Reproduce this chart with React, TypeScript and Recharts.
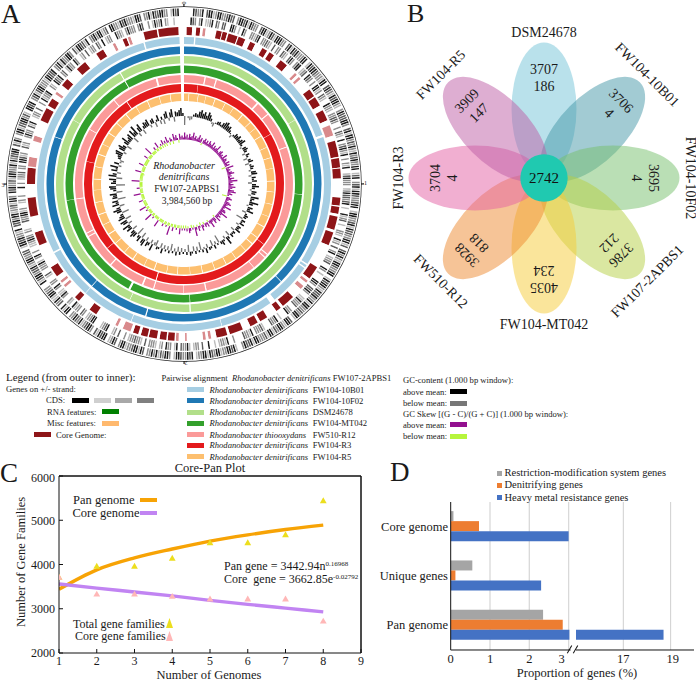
import React from 'react';
import {
  PieChart, Pie, Sector, ScatterChart, Scatter, XAxis, YAxis, ZAxis,
  ComposedChart, Line, BarChart, Bar, CartesianGrid, ReferenceLine,
} from 'recharts';

// ---- panel A: gene tracks, clockwise from the origin. 0 = empty, 1-4 = black to pale grey
const outerStrand = [
  '0000123310211431133212203112141233021143', '1241113302141213331104121123334110212341',
  '2113403122211302141132313413213311042103', '2141123321104113321412233114202131341123',
  '3110412113412213314113323114021143113241', '1423331141221300412113341132141133401213',
  '3211403113241313302141123341130213401121', '4203112341321330114102314411233001421132',
  '2143113322041121334102213114332411301213', '3241123314132211024130311422113240112103',
  '2142113334112210321413311302411224103213', '1143201133412133341120331412211330412100',
];
const innerStrand = [
  '0001230310443102302200113040130033421033', '2340203302340213031104320123030114302340',
  '0133403322300302340103213410303410042133', '3043122321040014320400334014302031043320',
  '0130400011302213004413320033100040133200', '0423330143320000300143340400100203340413',
  '3201403310340433302043323340300203400123', '4000113340320334104300314403103300420033',
  '3140310300443123034000233114300430300010', '3043320330112430024300313302410043302003',
  '0143310034012310320413301300430204330230', '1043300133403133303120030413310340040000',
];
// start degree, end degree, 1 dark / 2 pale
const coreBlocks = [
  [1, 3, 1], [4.5, 6, 1], [7, 8, 2], [12, 14, 1], [14.3, 16, 1], [16.5, 20, 1], [20.4, 23, 1], [25, 27, 1], [30, 32, 1], [33, 35, 1],
  [38, 41, 1], [45, 46, 2], [47, 48, 2], [53, 56, 1], [56.5, 60, 1], [62, 66, 1], [68, 72, 2], [74, 80, 1], [80.5, 84, 1], [84.3, 88, 1],
  [95, 98, 1], [98.4, 101, 1], [102, 107, 1], [108, 113, 1], [122, 127, 1], [128, 129, 2], [130.5, 132, 2], [136, 141, 1], [142, 144, 1],
  [148, 151, 1], [152, 155, 1], [158, 163, 1], [164, 168, 1], [170, 171, 2], [172, 173, 2], [179, 179.6, 2], [182, 183, 2],
  [183.5, 186, 1], [186.5, 189, 1], [190, 193, 1], [193.5, 196, 1], [197, 199, 1], [200, 203, 2], [205, 206, 2],
  [214, 217, 1], [222, 224, 1], [229, 230, 2], [231, 232, 2], [234, 238, 1], [247, 252, 1], [258, 265, 1],
  [270, 276, 1], [276.5, 280, 2], [286, 288, 2], [294, 299, 1], [300, 303, 1], [305, 306, 2], [309, 312, 1],
  [317, 321, 1], [326, 329, 1], [333, 334, 2], [337, 338.5, 1], [339, 340, 2], [345, 350, 1], [350.5, 358, 1],
];
// pairwise alignment rings: break position and width in degrees
const ring10B01Breaks = [[4, 0.5], [70.5, 0.9], [123, 0.5], [124.5, 0.5], [142, 2], [165, 0.2], [201, 0.2], [222, 0.2], [242, 0.6], [344, 0.5]];
const ring10F02Breaks = [[135, 0.25], [196, 0.45], [222, 0.2], [290, 0.2]];
const ringDSMBreaks = [[60, 0.15], [177, 0.5], [205, 0.2], [300, 0.15], [330, 0.4]];
const ringMT042Breaks = [[95, 0.15], [177, 0.25], [207, 1], [262, 0.15], [330, 0.4]];
const ringR12Breaks = [
  [11, 0.6], [17, 0.6], [42, 0.8], [50, 0.5], [70, 0.4], [130, 0.5], [132, 0.5], [140, 0.3], [168, 0.6], [180, 0.3],
  [196, 0.5], [202, 0.8], [222, 0.6], [241, 0.5], [243, 0.5], [262, 0.3], [300, 0.3], [320, 0.4], [345, 0.9],
];
const ringR3Breaks = [[8, 0.15], [60, 0.2], [127, 0.2], [196, 0.5], [230, 0.2], [283, 0.15], [325, 0.4]];
const ringR5Breaks = [
  [3, 0.3], [9, 0.3], [14, 0.2], [20, 0.4], [27, 0.3], [33, 0.2], [40, 0.5], [47, 0.3], [52, 0.2], [58, 0.4], [66, 0.3], [73, 0.3],
  [80, 0.2], [88, 0.4], [95, 0.3], [103, 0.3], [111, 0.2], [118, 0.5], [126, 0.4], [131, 0.6], [137, 0.3], [145, 0.3], [152, 0.4],
  [160, 0.3], [168, 0.4], [176, 0.2], [184, 0.4], [191, 0.3], [199, 0.5], [206, 0.3], [214, 0.5], [221, 0.3], [229, 0.4], [236, 0.6],
  [243, 0.3], [250, 0.4], [258, 0.3], [266, 0.2], [273, 0.4], [281, 0.3], [289, 0.5], [296, 0.3], [304, 0.4], [312, 0.3], [320, 0.5],
  [328, 0.3], [336, 0.4], [344, 0.3], [351, 0.4],
];
// deviation from the window mean, 1.5 degree slots
const gcContent = [
  -9, 0, -2, -4, -3, 2, 4, 3, 6, 8, 5, 7, 4, 8, 6, 3, -2, -4, 1, 3,
  4, 2, 5, 7, 8, 5, 6, 3, 1, -3, 2, 5, 4, 6, 3, 5, 7, 2, -2, 4,
  5, 3, -3, 4, 2, -4, 3, 5, -4, 2, 4, 3, -2, 5, 6, -3, 4, 2, 5, -4,
  4, 7, 3, -2, 5, 4, -3, 8, 4, 2, 9, 4, -2, 5, 3, 7, -4, 2, 4, 3,
  -7, 4, 2, 5, -3, 4, 3, 6, -4, 3, 2, 4, -5, 3, 8, -3, 2, 5, 3, -8,
  2, -3, 4, -6, 2, 3, -4, 5, -2, 3, -8, 2, -4, 3, -5, 2, 4, -7, 3, -3,
  2, -4, 3, -5, 4, -3, 2, -7, 3, -4, 2, -4, 5, -5, 2, 3, -6, -3, 7, -4,
  3, 5, -4, 7, 5, -6, 6, 3, -8, 5, 7, 4, -5, 6, 3, 8, -4, 5, 7, -6,
  7, 5, 3, -7, 5, 8, 4, -5, 7, 3, 6, -8, 5, 4, 7, -6, 3, 6, 7, -9,
  5, 3, 7, -6, 8, 4, -4, 6, 2, 8, -3, 5, -2, -4, 3, 4, 7, 8, -3, 6,
  8, 4, -5, 5, 9, 3, 5, 7, -6, 8, 4, 10, -4, 5, 8, -5, 3, 6, 5, 7,
  -3, 4, 5, -5, 2, 6, -4, 3, -5, 5, 7, -3, 5, 8, -5, 5, 4, 6, 8, 3,
];
const gcSkew = [
  7, 3, 5, 2, 6, 3, 4, 8, 3, 5, 2, 4, 7, 3, 5, -2, 4, 6, 3, 5,
  2, 6, 4, 3, 7, 2, 5, 3, 4, 8, 3, 2, 5, 6, 3, 4, 2, 7, 3, 5,
  4, 2, 6, 3, 5, -4, 8, 3, 4, 2, 5, 7, 3, 4, 2, 6, 3, 9, 4, 2,
  5, 3, 7, 4, 2, 6, 8, 3, 5, 2, -5, 4, 6, 3, 2, 5, 7, 4, 3, 9,
  3, 2, 5, 6, 3, 10, 4, 2, 5, 3, 7, -2, 4, 6, 2, 3, 8, 3, -2, 5,
  2, 4, -2, 3, 6, -3, 2, 5, -2, 3, 9, -2, 2, -3, 3, 5, -2, 3, -3, 2,
  -3, 2, -3, 6, -3, -3, 2, -3, -3, 4, -3, -3, 9, -3, -3, 2, -3, -3, 3, -3,
  -3, -3, -3, 7, -3, -3, -3, -3, 2, -3, -3, 8, -3, -3, -3, -3, 2, -3, -3, 7,
  -3, -3, -3, -3, -3, 4, -3, -3, -3, -3, -3, 7, -3, -3, -3, -3, 3, -3, -3, -3,
  -3, -3, 8, -3, -3, -3, -3, -3, -4, -3, 6, -3, -3, -3, -3, -3, 5, -3, -3, -3,
  -3, -3, -3, 4, -3, -3, -3, -3, 8, -3, -3, -3, -3, 3, -3, -3, 6, -3, -3, 2,
  -3, 5, -3, 3, -3, 6, 2, -3, 4, 2, -3, 7, 3, 5, 2, -3, 6, 3, 4, 2,
];
const tickMarks = [0, 90, 180, 270];

// ---- panel B
const petalNames = ['DSM24678', 'FW104-10B01', 'FW104-10F02', 'FW107-2APBS1', 'FW104-MT042', 'FW510-R12', 'FW104-R3', 'FW104-R5'];
const petalTotals = ['3707', '3706', '3695', '3786', '4035', '3928', '3704', '3909'];
const petalUniques = ['186', '4', '4', '212', '234', '818', '4', '147'];
const coreCount = '2742';

// ---- panel C
const genomes = [1, 2, 3, 4, 5, 6, 7, 8];
const panFit = [3440, 3880, 4150, 4350, 4530, 4670, 4790, 4890];
const coreFit = [3560, 3465, 3380, 3290, 3190, 3100, 3015, 2930];
const totalFamilies = [3700, 3950, 3950, 4130, 4480, 4480, 4660, 5430];
const coreFamilies = [3700, 3320, 3320, 3270, 3210, 3210, 3210, 2710];

// ---- panel D
const geneGroups = ['Core genome', 'Unique genes', 'Pan genome'];
const restriction = [0.07, 0.55, 2.35];
const denitrifying = [0.72, 0.12, 2.85];
const heavyMetal = [3.0, 2.3, 3.02];
const heavyMetalUpper = [null, null, 18.7];

const serif = '"Liberation Serif", serif';
const shades = ['#ffffff', '#1c1c1c', '#5c5c5c', '#8f8f8f', '#bdbdbd'];
const petalColors = ['#74c3d8', '#4697a8', '#76bf6c', '#b5cf44', '#f6cc38', '#ee8a30', '#e35fa3', '#bd5ea6'];
const labelTilt = [0, 45, 90, -45, 0, 45, -90, -45];

// a gene is a thin line inside its slot, so neighbours read as fine stripes
const toTrack = (rows: string[]) => {
  const slots = rows.join('').split('');
  const slot = 360 / slots.length;
  const out: any[] = [];
  slots.forEach((c) => {
    if (c === '0') {
      out.push({ value: slot, fill: '#ffffff' });
    } else {
      out.push({ value: slot * 0.74, fill: shades[Number(c)] });
      out.push({ value: slot * 0.26, fill: '#ffffff' });
    }
  });
  return out;
};

const toBlocks = (blocks: number[][]) => {
  const out: any[] = [];
  let at = 0;
  blocks.forEach(([a, b, k]) => {
    out.push({ value: a - at, fill: '#ffffff' });
    out.push({ value: b - a, fill: k === 1 ? '#8e1518' : '#d98a8c' });
    at = b;
  });
  out.push({ value: 360 - at, fill: '#ffffff' });
  return out;
};

// ring colour with its white breaks; every ring shares the gap at the origin
const toRing = (breaks: number[][], color: string) => {
  const all = [...breaks, [358.3, 1.7]];
  const out: any[] = [];
  let at = 0;
  all.forEach(([p, w]) => {
    out.push({ value: p - at, fill: color });
    out.push({ value: w, fill: '#ffffff' });
    at = p + w;
  });
  return out;
};

const rings = [
  { d: toRing(ring10B01Breaks, '#a6cee3'), i: 140, o: 147 },
  { d: toRing(ring10F02Breaks, '#1f78b4'), i: 130, o: 137.5 },
  { d: toRing(ringDSMBreaks, '#b2df8a'), i: 120.5, o: 128 },
  { d: toRing(ringMT042Breaks, '#33a02c'), i: 111, o: 118.5 },
  { d: toRing(ringR12Breaks, '#fb9a99'), i: 101.5, o: 109 },
  { d: toRing(ringR3Breaks, '#e31a1c'), i: 92, o: 100 },
  { d: toRing(ringR5Breaks, '#fdbf6f'), i: 83, o: 90.5 },
];

const spikes = (values: number[], up: string, down: string) =>
  values.map((h) => ({ value: 1, h, fill: h >= 0 ? up : down }));

const SpikeShape = (base: number) => (p: any) => {
  const h = p.payload?.h ?? p.h ?? 0;
  return (
    <Sector
      cx={p.cx} cy={p.cy} startAngle={p.startAngle} endAngle={p.endAngle}
      innerRadius={h >= 0 ? base : base + h} outerRadius={h >= 0 ? base + h : base}
      fill={p.fill} stroke="none"
    />
  );
};

const Txt = ({ x, y, s = 8.6, c = '#1a1a1a', center, right, rot, children, st }: any) => (
  <div
    style={{
      position: 'absolute', left: x, top: y, fontSize: s, color: c, lineHeight: 1, whiteSpace: 'pre',
      transform: `translate(${center ? '-50%' : right ? '-100%' : '0'},-50%)${rot ? ` rotate(${rot}deg)` : ''}`,
      ...st,
    }}
  >
    {children}
  </div>
);

const Swatch = ({ x, y, w = 17, h = 5, c }: any) => (
  <div style={{ position: 'absolute', left: x, top: y - h / 2, width: w, height: h, background: c }} />
);

const pan = { startAngle: 90, endAngle: -270, cx: 184, cy: 184, dataKey: 'value', stroke: 'none', isAnimationActive: false, legendType: 'none' as const };

function PanelA() {
  const tickData: any[] = [];
  tickMarks.forEach(() => {
    tickData.push({ value: 0.35, fill: '#111' });
    tickData.push({ value: 89.65, fill: 'none' });
  });
  return (
    <div style={{ position: 'absolute', left: 0, top: 0 }}>
      <PieChart width={370} height={370} margin={{ top: 0, right: 0, bottom: 0, left: 0 }}>
        <Pie {...pan} data={[{ value: 1, fill: '#222' }]} innerRadius={177} outerRadius={177.7} />
        <Pie {...pan} data={tickData} innerRadius={177} outerRadius={180} startAngle={90.2} endAngle={-269.8} />
        <Pie {...pan} data={toTrack(outerStrand)} innerRadius={168} outerRadius={175.7} />
        <Pie {...pan} data={toTrack(innerStrand)} innerRadius={159} outerRadius={166.7} />
        <Pie {...pan} data={toBlocks(coreBlocks)} innerRadius={149} outerRadius={157} />
        {rings.map((r, i) => (
          <Pie key={i} {...pan} data={r.d} innerRadius={r.i} outerRadius={r.o} />
        ))}
        <Pie {...pan} data={spikes(gcContent, '#111111', '#777777')} innerRadius={60} outerRadius={80} paddingAngle={0.3} shape={SpikeShape(68)} />
        <Pie {...pan} data={spikes(gcSkew, '#93108f', '#b6f53c')} innerRadius={40} outerRadius={56} paddingAngle={0.05} shape={SpikeShape(44.5)} />
      </PieChart>
      <Txt x={184} y={166} s={10} center st={{ fontStyle: 'italic' }}>Rhodanobacter</Txt>
      <Txt x={184} y={177} s={10} center st={{ fontStyle: 'italic' }}>denitrificans</Txt>
      <Txt x={187} y={188.5} s={9.6} center>FW107-2APBS1</Txt>
      <Txt x={187} y={200.5} s={9.6} center>3,984,560 bp</Txt>
      <Txt x={184} y={3} s={6} center rot={90}>0</Txt>
      <Txt x={365.5} y={183} s={6} center>1</Txt>
      <Txt x={186} y={363} s={6} center rot={180}>2</Txt>
      <Txt x={3} y={185} s={6} center>3</Txt>
    </div>
  );
}

function LegendA() {
  const rows = [
    ['#a6cee3', 'denitrificans', 'FW104-10B01'], ['#1f78b4', 'denitrificans', 'FW104-10F02'],
    ['#b2df8a', 'denitrificans', 'DSM24678'], ['#33a02c', 'denitrificans', 'FW104-MT042'],
    ['#fb9a99', 'thiooxydans', 'FW510-R12'], ['#e31a1c', 'denitrificans', 'FW104-R3'], ['#fdbf6f', 'denitrificans', 'FW104-R5'],
  ];
  const ys = [389.6, 400.8, 412, 423, 434.6, 445.4, 456.5];
  return (
    <>
      <Txt x={6} y={377} s={11}>Legend (from outer to inner):</Txt>
      <Txt x={6} y={389}>Genes on +/- strand:</Txt>
      <Txt x={46} y={400}>CDS:</Txt>
      <Swatch x={71.5} y={400} c="#000000" />
      <Swatch x={93.5} y={400} c="#cfcfcf" />
      <Swatch x={115} y={400} c="#a8a8a8" />
      <Swatch x={136.5} y={400} c="#808080" />
      <Txt x={47} y={411.5}>RNA features:</Txt>
      <Swatch x={101.5} y={411} c="#008000" />
      <Txt x={47} y={423}>Misc features:</Txt>
      <Swatch x={101.5} y={423} c="#ffb96e" />
      <Swatch x={34} y={434} c="#8e1518" />
      <Txt x={56} y={434.5}>Core Genome:</Txt>
      <Txt x={161.5} y={378}>Pairwise alignment  <i>Rhodanobacter denitrificans</i> FW107-2APBS1</Txt>
      {rows.map((r, i) => (
        <React.Fragment key={r[2]}>
          <Swatch x={186.5} y={ys[i]} c={r[0]} />
          <Txt x={209.5} y={ys[i]}><i>Rhodanobacter {r[1]}</i></Txt>
          <Txt x={312.7} y={ys[i]}>{r[2]}</Txt>
        </React.Fragment>
      ))}
      <Txt x={403} y={379.6}>GC-content (1.000 bp window):</Txt>
      <Txt x={403} y={391.5}>above mean:</Txt>
      <Swatch x={450} y={391.5} c="#000000" />
      <Txt x={403} y={402.5}>below mean:</Txt>
      <Swatch x={450} y={403.5} c="#777777" />
      <Txt x={403} y={413.8}>GC Skew [(G - C)/(G + C)] (1.000 bp window):</Txt>
      <Txt x={403} y={424.6}>above mean:</Txt>
      <Swatch x={450} y={424.6} c="#93108f" />
      <Txt x={403} y={436}>below mean:</Txt>
      <Swatch x={450} y={436.5} c="#b6f53c" />
    </>
  );
}

const PetalShape = (p: any) => {
  const { cx, cy, payload } = p;
  const rad = (payload.angle * Math.PI) / 180;
  const lx = cx + 77 * Math.sin(rad);
  const ly = cy - 77 * Math.cos(rad);
  return (
    <g fontFamily={serif} fill="#1a1a1a">
      <g transform={`rotate(${payload.angle} ${cx} ${cy})`}>
        <ellipse cx={cx} cy={cy} rx={32.5} ry={66.5} fill={payload.color} fillOpacity={0.5} />
        <text x={cx} y={cy - 40} fontSize={14} textAnchor="middle" dominantBaseline="central">{payload.total}</text>
        <text x={cx} y={cy - 23} fontSize={14} textAnchor="middle" dominantBaseline="central">{payload.unique}</text>
      </g>
      <text x={lx} y={ly} fontSize={14} textAnchor="middle" dominantBaseline="central" transform={`rotate(${payload.tilt} ${lx} ${ly})`}>
        {payload.name}
      </text>
    </g>
  );
};

const HubShape = (p: any) => (
  <g fontFamily={serif}>
    <circle cx={p.cx} cy={p.cy} r={23.7} fill="#20c9b0" />
    <text x={p.cx} y={p.cy} fontSize={15} fill="#111" textAnchor="middle" dominantBaseline="central">{coreCount}</text>
  </g>
);

function PanelB() {
  const petals = petalNames.map((name, i) => {
    const angle = i * 45;
    const rad = (angle * Math.PI) / 180;
    return {
      name, angle, total: petalTotals[i], unique: petalUniques[i], color: petalColors[i], tilt: labelTilt[i],
      x: 69 * Math.sin(rad), y: 69 * Math.cos(rad),
    };
  });
  return (
    <div style={{ position: 'absolute', left: 383.5, top: 0 }}>
      <ScatterChart width={320} height={356} margin={{ top: 0, right: 0, bottom: 0, left: 0 }}>
        <XAxis type="number" dataKey="x" domain={[-160, 160]} hide />
        <YAxis type="number" dataKey="y" domain={[-178, 178]} hide />
        <Scatter data={petals} shape={PetalShape} isAnimationActive={false} />
        <Scatter data={[{ x: 0, y: 0 }]} shape={HubShape} isAnimationActive={false} />
      </ScatterChart>
    </div>
  );
}

const cTick = { fontSize: 12, fontFamily: serif, fill: '#1a1a1a' };

function PanelC() {
  const table = genomes.map((n, i) => ({ n, pan: panFit[i], core: coreFit[i], total: totalFamilies[i], coreFam: coreFamilies[i] }));
  const xTicks = [1, 2, 3, 4, 5, 6, 7, 8, 9];
  const yTicks = [2000, 3000, 4000, 5000, 6000];
  return (
    <>
      <div style={{ position: 'absolute', left: 0, top: 470 }}>
        <ComposedChart width={370} height={210} data={table} margin={{ top: 5, right: 8, bottom: 0, left: 0 }}>
          <XAxis dataKey="n" type="number" domain={[1, 9]} ticks={xTicks} height={27} tick={cTick} tickSize={-4} tickMargin={7} stroke="#111" allowDataOverflow />
          <XAxis xAxisId="top" orientation="top" dataKey="n" type="number" domain={[1, 9]} ticks={xTicks} height={1} tick={false} tickSize={-4} stroke="#111" />
          <YAxis type="number" domain={[2000, 6000]} ticks={yTicks} width={59} tick={cTick} tickSize={-4} tickMargin={8} stroke="#111" />
          <YAxis yAxisId="right" orientation="right" type="number" domain={[2000, 6000]} ticks={yTicks} width={1} tick={false} tickSize={-4} stroke="#111" />
          <ZAxis range={[20, 20]} />
          <ReferenceLine x={9} stroke="#111" />
          <ReferenceLine y={6000} stroke="#111" />
          <Scatter dataKey="total" fill="#ecde1e" shape="triangle" isAnimationActive={false} />
          <Scatter dataKey="coreFam" fill="#ffb7b7" shape="triangle" isAnimationActive={false} />
          <Line type="monotone" dataKey="pan" stroke="#f7a305" strokeWidth={3.4} dot={false} isAnimationActive={false} />
          <Line type="monotone" dataKey="core" stroke="#c184f2" strokeWidth={3.4} dot={false} isAnimationActive={false} />
        </ComposedChart>
      </div>
      <Txt x={210} y={467.5} s={12.5} center>Core-Pan Plot</Txt>
      <Txt x={209} y={674.5} s={12.5} center>Number of Genomes</Txt>
      <Txt x={21} y={562} s={12.5} center rot={-90}>Number of Gene Families</Txt>
      <Txt x={73} y={499.5} s={12.5}>Pan genome</Txt>
      <Swatch x={139.5} y={500} w={17.5} h={3.4} c="#f7a305" />
      <Txt x={72.5} y={513} s={12.5}>Core genome</Txt>
      <Swatch x={139.5} y={513} w={17.5} h={3.4} c="#c184f2" />
      <Txt x={224} y={565.5} s={12}>Pan gene = 3442.94n<sup style={{ fontSize: 7, verticalAlign: 4, lineHeight: 0 }}>0.16968</sup></Txt>
      <Txt x={224} y={579} s={12}>Core  gene = 3662.85e<sup style={{ fontSize: 7, verticalAlign: 4, lineHeight: 0 }}>-0.02792</sup></Txt>
      <Txt x={73} y={623.5} s={12}>Total gene families</Txt>
      <Txt x={75} y={636} s={12}>Core gene families</Txt>
      <svg style={{ position: 'absolute', left: 165, top: 618 }} width={9} height={24}>
        <polygon points="4.5,0 1,10 8,10" fill="#ecde1e" />
        <polygon points="4.5,13 1,23 8,23" fill="#ffb7b7" />
      </svg>
    </>
  );
}

const DTick = (shift: (v: number) => number) => (p: any) => (
  <text x={p.x + shift(p.payload.value)} y={p.y + 5} fontSize={12.5} fontFamily={serif} fill="#1a1a1a" textAnchor="middle">
    {p.payload.value}
  </text>
);

const GroupTick = (p: any) => (
  <text x={448} y={p.y} fontSize={12.5} fontFamily={serif} fill="#1a1a1a" textAnchor="end" dominantBaseline="central" transform="translate(-370 0)">
    {p.payload.value}
  </text>
);

function PanelD() {
  const lower = geneGroups.map((g, i) => ({ g, rm: restriction[i], den: denitrifying[i], hm: heavyMetal[i] }));
  const upper = geneGroups.map((g, i) => ({ g, rm: null, den: null, hm: heavyMetalUpper[i] }));
  const bars = (
    [['rm', '#a5a5a5'], ['den', '#ed7d31'], ['hm', '#4472c4']] as const
  ).map(([k, c]) => <Bar key={k} dataKey={k} fill={c} isAnimationActive={false} />);
  return (
    <>
      <div style={{ position: 'absolute', left: 370, top: 495 }}>
        <BarChart layout="vertical" width={200.6} height={183} data={lower} barGap={0} barCategoryGap="18.5%" margin={{ top: 7, right: 0, bottom: 0, left: 0 }}>
          <CartesianGrid horizontal={false} stroke="#d9d9d9" strokeWidth={1.3} verticalValues={[1, 2, 3]} />
          <XAxis type="number" domain={[0, 3.05]} ticks={[0, 1, 2, 3]} height={28} tickLine={false} stroke="#111" tick={DTick((v) => (v === 3 ? -5 : 0))} />
          <YAxis type="category" dataKey="g" width={80.7} tickLine={false} stroke="#111" tick={GroupTick} interval={0} />
          {bars}
        </BarChart>
      </div>
      <div style={{ position: 'absolute', left: 576, top: 495 }}>
        <BarChart layout="vertical" width={118.3} height={183} data={upper} barGap={0} barCategoryGap="18.5%" margin={{ top: 7, right: 0, bottom: 0, left: 0 }}>
          <CartesianGrid horizontal={false} stroke="#cfcfcf" verticalValues={[17, 19]} />
          <XAxis type="number" domain={[15, 20]} ticks={[15, 17, 19]} height={28} tickLine={false} stroke="#111" tick={DTick((v) => (v === 15 ? 5 : v === 19 ? 2 : 0))} />
          <YAxis type="category" dataKey="g" hide />
          {bars}
        </BarChart>
      </div>
      <div style={{ position: 'absolute', left: 568.5, top: 645, width: 1.2, height: 9, background: '#111', transform: 'rotate(30deg)' }} />
      <div style={{ position: 'absolute', left: 575, top: 645, width: 1.2, height: 9, background: '#111', transform: 'rotate(30deg)' }} />
      <Txt x={577} y={672.5} s={12.5} center>Proportion of genes (%)</Txt>
      <Swatch x={497} y={473} w={5} h={5} c="#a5a5a5" />
      <Txt x={504.5} y={473} s={10.5}>Restriction-modification system genes</Txt>
      <Swatch x={497} y={485} w={5} h={5} c="#ed7d31" />
      <Txt x={504.5} y={485} s={10.5}>Denitrifying genes</Txt>
      <Swatch x={497} y={497.5} w={5} h={5} c="#4472c4" />
      <Txt x={504.5} y={497.5} s={10.5}>Heavy metal resistance genes</Txt>
    </>
  );
}

export default function App() {
  return (
    <div style={{ position: 'absolute', left: 0, top: 0, width: 696, height: 680, background: '#fff', fontFamily: serif, overflow: 'hidden' }}>
      <PanelA />
      <LegendA />
      <PanelB />
      <PanelC />
      <PanelD />
      <Txt x={1} y={14} s={27}>A</Txt>
      <Txt x={407} y={14} s={26}>B</Txt>
      <Txt x={0} y={473} s={27}>C</Txt>
      <Txt x={390} y={472} s={27}>D</Txt>
    </div>
  );
}
